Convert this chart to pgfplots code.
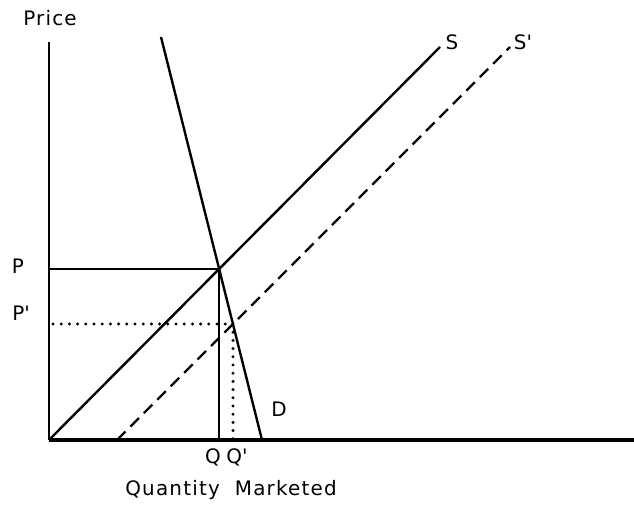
\documentclass[border=0pt]{standalone}
\usepackage{fontspec}
\setmainfont{DejaVu Sans}[LetterSpace=6]
\usepackage{pgfplots}
\pgfplotsset{compat=1.18}
\tikzset{lbl/.style={font=\fontsize{20}{24}\selectfont, inner sep=0pt, anchor=center}}

\begin{document}
\begin{tikzpicture}
\begin{axis}[
  x=1bp, y=1bp,
  xmin=0, xmax=585,
  ymin=0, ymax=398,
  axis lines=none,
  ticks=none,
  clip=false,
]
% axes
\addplot[black, line width=3.2bp] coordinates {(0,0) (585,0)};
\addplot[black, line width=2.8bp] coordinates {(0,0) (0,398)};
% demand
\addplot[black, line width=2.4bp] coordinates {(112,403) (213,0)};
% supply
\addplot[black, line width=2.4bp] coordinates {(0,0) (391,393)};
% shifted supply
\addplot[black, line width=2.4bp, dash pattern=on 12bp off 7bp] coordinates {(68,0) (461,393)};
% equilibrium P, Q
\addplot[black, line width=2.4bp] coordinates {(0,171) (170,171)};
\addplot[black, line width=1.6bp] coordinates {(170,171) (170,0)};
% new equilibrium P', Q'
\addplot[black, line width=3.3bp, line cap=round, dash pattern=on 0bp off 8.2bp] coordinates {(4,116) (184,116)};
\addplot[black, line width=3.3bp, line cap=round, dash pattern=on 0bp off 8.2bp] coordinates {(184,116) (184,0)};

\node[lbl] at (axis cs:1,422) {Price};
\node[lbl] at (axis cs:403,398) {S};
\node[lbl] at (axis cs:474,398) {S\textquotesingle};
\node[lbl] at (axis cs:-31,174) {P};
\node[lbl] at (axis cs:-28,127) {P\textquotesingle};
\node[lbl] at (axis cs:230,31) {D};
\node[lbl] at (axis cs:164,-17) {Q};
\node[lbl] at (axis cs:188,-17) {Q\textquotesingle};
\node[lbl] at (axis cs:182,-50) {Quantity\ \ Marketed};

\coordinate (bl) at (axis cs:-49,-66);
\coordinate (tr) at (axis cs:585,440);
\end{axis}
\pgfresetboundingbox
\path[use as bounding box] (bl) rectangle (tr);
\end{tikzpicture}
\end{document}
